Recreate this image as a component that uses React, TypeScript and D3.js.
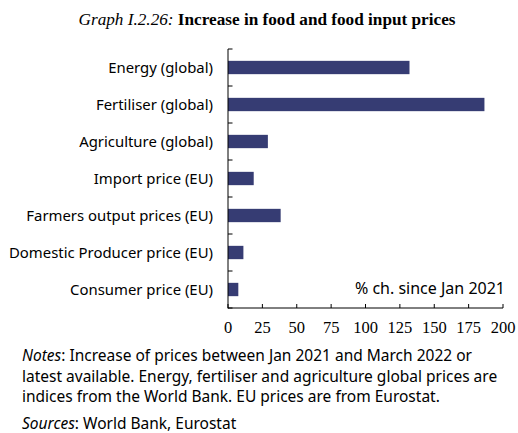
import React from "react";
import * as d3 from "d3";

const categories = [
  "Energy (global)",
  "Fertiliser (global)",
  "Agriculture (global)",
  "Import price (EU)",
  "Farmers output prices (EU)",
  "Domestic Producer price (EU)",
  "Consumer price (EU)",
];
const values = [132, 186.5, 29, 18.7, 38.3, 11.2, 7.5];
const xTicks = [0, 25, 50, 75, 100, 125, 150, 175, 200];

const W = 518;
const H = 433;
const left = 228;
const right = 503;
const top = 49;
const bottom = 308;

export default function App() {
  const x = d3.scaleLinear().domain([0, 200]).range([left, right]);
  const y = d3.scaleBand().domain(categories).range([top, bottom]).paddingInner(0.64).paddingOuter(0.32);
  const band = d3.scaleBand().domain(categories).range([top, bottom]);
  const sans = "'Noto Sans', 'DejaVu Sans', sans-serif";
  const serif = "'Liberation Serif', 'Times New Roman', serif";
  return (
    <svg width={W} height={H} style={{ position: "absolute", left: 0, top: 0 }}>
      <rect width={W} height={H} fill="#fff" />
      <text x={267} y={25} textAnchor="middle" fontFamily={serif} fontSize={17.2} fill="#000">
        <tspan fontStyle="italic">Graph I.2.26: </tspan>
        <tspan fontWeight="bold">Increase in food and food input prices</tspan>
      </text>
      {categories.map((c, i) => (
        <rect key={c} x={x(0)} y={y(c)!} width={x(values[i]) - x(0)} height={y.bandwidth()} fill="#363c73" />
      ))}
      {categories.map((c) => (
        <text key={c} x={213} y={band(c)! + band.bandwidth() / 2} dy="0.36em" textAnchor="end" fontFamily={sans} fontSize={14.9} fill="#000">
          {c}
        </text>
      ))}
      {[...categories.map((c) => band(c)!), bottom].map((v, i) => (
        <line key={i} x1={left} x2={left + 4.5} y1={v} y2={v} stroke="#000" strokeWidth={1} />
      ))}
      <line x1={left} x2={left} y1={top} y2={bottom + 0.5} stroke="#000" strokeWidth={1} />
      <line x1={left} x2={right} y1={bottom} y2={bottom} stroke="#000" strokeWidth={1} />
      {xTicks.map((t) => (
        <g key={t}>
          <line x1={x(t)} x2={x(t)} y1={bottom} y2={bottom - 4} stroke="#000" strokeWidth={1} />
          <text x={x(t)} y={333} textAnchor="middle" fontFamily={serif} fontSize={16.5} fill="#000">
            {t}
          </text>
        </g>
      ))}
      <text x={505} y={293.5} textAnchor="end" fontFamily={sans} fontSize={16} fill="#000">
        % ch. since Jan 2021
      </text>
      <g fontFamily={sans} fontSize={15.5} fill="#000">
        <text x={22} y={361}>
          <tspan fontStyle="italic">Notes</tspan>: Increase of prices between Jan 2021 and March 2022 or
        </text>
        <text x={22} y={382}>latest available. Energy, fertiliser and agriculture global prices are</text>
        <text x={22} y={402}>indices from the World Bank. EU prices are from Eurostat.</text>
        <text x={22} y={429}>
          <tspan fontStyle="italic">Sources</tspan>: World Bank, Eurostat
        </text>
      </g>
    </svg>
  );
}
